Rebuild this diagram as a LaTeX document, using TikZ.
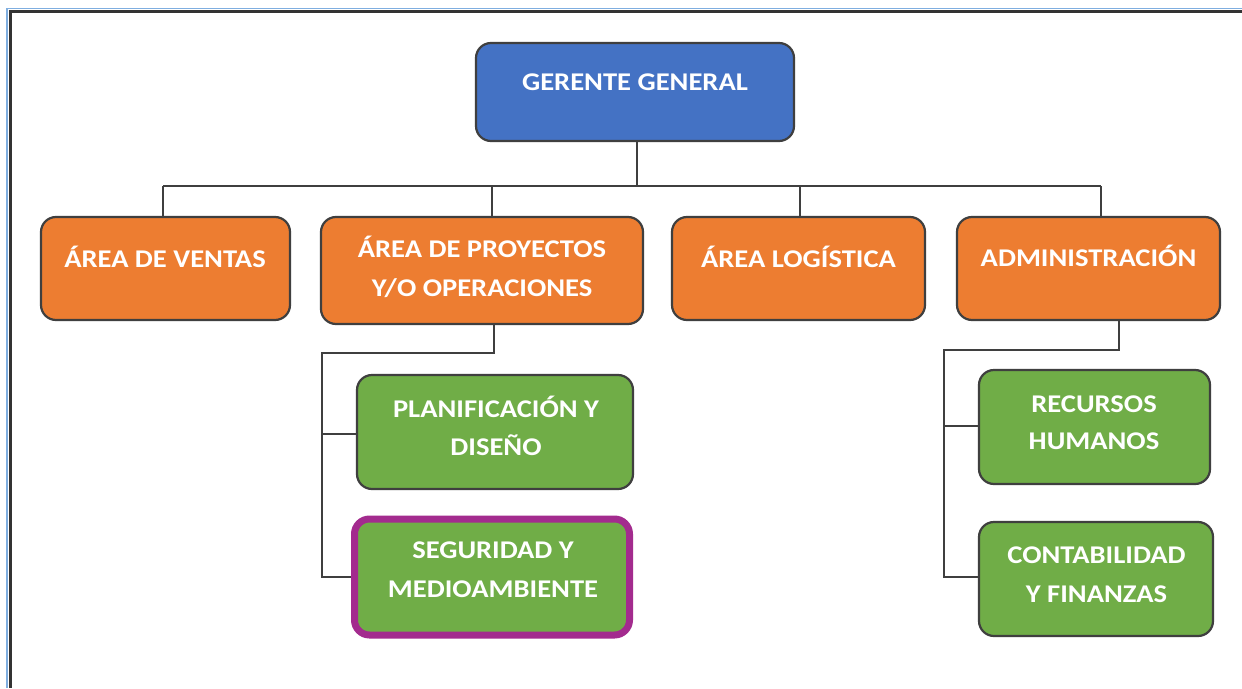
\documentclass[tikz,border=0pt]{standalone}
\usepackage{fontspec}
\setmainfont{Carlito}
\definecolor{gblue}{HTML}{4472C4}
\definecolor{gorange}{HTML}{ED7D31}
\definecolor{ggreen}{HTML}{70AD47}
\definecolor{gline}{HTML}{3F3F3F}
\definecolor{gmag}{HTML}{A32B8E}
\definecolor{frblue}{HTML}{7FAEE0}
\newcommand\stretchtxt[1]{\scalebox{1.12}[1]{#1}}
\tikzset{
  box/.style={draw=gline, line width=2.2pt, rounded corners=15pt, inner sep=0pt},
  txt/.style={anchor=base, text=white, font=\fontsize{25.5}{30}\selectfont\bfseries, inner sep=0pt},
  conn/.style={draw=gline, line width=1.6pt},
}
\begin{document}
\begin{tikzpicture}[x=1pt,y=-1pt]
\useasboundingbox (0,0) rectangle (1242,688);
\fill[white] (0,0) rectangle (1242,688);
% frame
\draw[frblue, line width=1.5pt] (7,688) -- (7,8.5) -- (1242,8.5);
\draw[black!80, line width=3pt] (10,688) -- (10,11.5) -- (1242,11.5);
% boxes
\path[box, fill=gblue] (476,43) rectangle (794,141);
\node[inner sep=0pt, minimum width=318pt, minimum height=98pt] (gg) at (635,92) {};
\node[box, fill=gorange, minimum width=249pt, minimum height=103pt] (av) at (165.5,268.5) {};
\node[box, fill=gorange, minimum width=322pt, minimum height=107pt] (ap) at (482,270.5) {};
\node[box, fill=gorange, minimum width=253pt, minimum height=103pt] (al) at (798.5,268.5) {};
\node[box, fill=gorange, minimum width=263pt, minimum height=103pt] (ad) at (1088.5,268.5) {};
\node[box, fill=ggreen, minimum width=276pt, minimum height=114pt] (pd) at (495,432) {};
\node[box, fill=ggreen, draw=gmag, line width=7pt, minimum width=275pt, minimum height=116pt] (sm) at (492,577) {};
\node[box, fill=ggreen, minimum width=231pt, minimum height=114pt] (rh) at (1094.5,427) {};
\node[box, fill=ggreen, minimum width=234pt, minimum height=114pt] (cf) at (1096,579) {};
% texts
\node[txt] (tgg) at (635,90) {\stretchtxt{GERENTE GENERAL}};
\node[txt] (tav) at (165,267) {\stretchtxt{ÁREA DE VENTAS}};
\node[txt] (tap1) at (482,257) {\stretchtxt{ÁREA DE PROYECTOS}};
\node[txt] (tap2) at (482,296) {\stretchtxt{Y/O OPERACIONES}};
\node[txt] (tal) at (798.5,267) {\stretchtxt{ÁREA LOGÍSTICA}};
\node[txt] (tad) at (1088.5,266) {\stretchtxt{ADMINISTRACIÓN}};
\node[txt] (tpd1) at (496,417) {\stretchtxt{PLANIFICACIÓN Y}};
\node[txt] (tpd2) at (496,455) {\stretchtxt{DISEÑO}};
\node[txt] (tsm1) at (493,558) {\stretchtxt{SEGURIDAD Y}};
\node[txt] (tsm2) at (493,597) {\stretchtxt{MEDIOAMBIENTE}};
\node[txt] (trh1) at (1094,412) {\stretchtxt{RECURSOS}};
\node[txt] (trh2) at (1094,449) {\stretchtxt{HUMANOS}};
\node[txt] (tcf1) at (1096.5,563) {\stretchtxt{CONTABILIDAD}};
\node[txt] (tcf2) at (1096.5,602) {\stretchtxt{Y FINANZAS}};
% connectors
\coordinate (bus) at (637,186);
\coordinate (busL) at (163,186);
\coordinate (busR) at (1101,186);
\draw[conn] (gg.south -| bus) -- (bus);
\draw[conn] (busL) -- (busR);
\draw[conn] (busL) -- (busL |- av.north);
\draw[conn] (492,186) -- (492,217);
\draw[conn] (800,186) -- (800,217);
\draw[conn] (busR) -- (busR |- ad.north);
% proyectos subtree
\coordinate (pa) at (494,353);
\coordinate (pb) at (322,353);
\draw[conn] (pa |- ap.south) -- (pa) -- (pb) -- (pb |- sm.west) -- (sm.west);
\draw[conn] (322,434) -- (pd.west |- 0,434);
% admin subtree
\coordinate (aa) at (1119,350);
\coordinate (ab) at (944,350);
\draw[conn] (aa |- ad.south) -- (aa) -- (ab) -- (944,577) -- (cf.west |- 0,577);
\draw[conn] (944,426) -- (rh.west |- 0,426);
\end{tikzpicture}
\end{document}
